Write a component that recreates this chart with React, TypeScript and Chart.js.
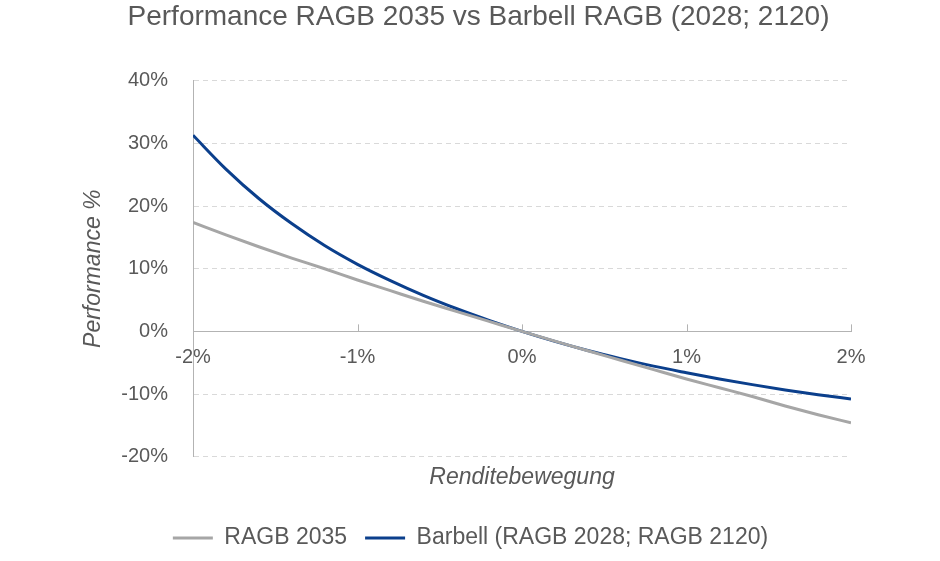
import React, { useEffect, useRef } from "react";
import { Chart, registerables } from "chart.js";

Chart.register(...registerables);

const TITLE = "Performance RAGB 2035 vs Barbell RAGB (2028; 2120)";
const X_TITLE = "Renditebewegung";
const Y_TITLE = "Performance %";

// yield move in %
const yieldMoves = [-2, -1.8, -1.6, -1.4, -1.2, -1, -0.8, -0.6, -0.4, -0.2, 0, 0.2, 0.4, 0.6, 0.8, 1, 1.2, 1.4, 1.6, 1.8, 2];

const ragb2035 = [17.4, 15.4, 13.5, 11.7, 10.0, 8.2, 6.5, 4.8, 3.2, 1.6, 0, -1.55, -3.1, -4.6, -6.1, -7.6, -9.0, -10.4, -11.9, -13.3, -14.6];
const barbell = [31.3, 25.9, 21.2, 17.2, 13.7, 10.7, 8.1, 5.75, 3.65, 1.75, 0, -1.6, -3.05, -4.35, -5.55, -6.6, -7.6, -8.5, -9.35, -10.1, -10.8];

const seriesNames = ["RAGB 2035", "Barbell (RAGB 2028; RAGB 2120)"];
const seriesColors = ["#a6a6a6", "#0b3f8c"];

const FONT = "'Liberation Sans', Arial, sans-serif";
const TEXT = "#595959";
const AXIS = "#b3b3b3";

const upTicks = {
  id: "upTicks",
  beforeDatasetsDraw(chart: any) {
    const xs = chart.scales.x;
    const ys = chart.scales.y;
    const ctx = chart.ctx;
    const y0 = ys.getPixelForValue(0);
    ctx.save();
    ctx.strokeStyle = AXIS;
    ctx.lineWidth = 1;
    xs.ticks.forEach((t: any) => {
      const px = Math.round(xs.getPixelForValue(t.value)) + 0.5;
      ctx.beginPath();
      ctx.moveTo(px, y0);
      ctx.lineTo(px, y0 - 7);
      ctx.stroke();
    });
    ctx.restore();
  },
};

const shiftLegend = {
  id: "shiftLegend",
  afterLayout(chart: any) {
    const lg = chart.legend;
    if (lg) {
      lg.left -= 8;
      lg.right -= 8;
    }
  },
};

export default function App() {
  const ref = useRef<HTMLCanvasElement>(null);
  useEffect(() => {
    document.body.style.margin = "0";
    const pts = (vals: number[]) => yieldMoves.map((x, i) => ({ x, y: vals[i] }));
    const mk = (i: number, vals: number[]) => ({
      label: seriesNames[i],
      data: pts(vals),
      borderColor: seriesColors[i],
      backgroundColor: seriesColors[i],
      borderWidth: 3,
      pointRadius: 0,
      cubicInterpolationMode: "monotone" as const,
      xAxisID: "x",
      yAxisID: "y",
    });
    const chart = new Chart(ref.current!, {
      type: "line",
      data: { datasets: [mk(0, ragb2035), mk(1, barbell)] },
      plugins: [upTicks, shiftLegend],
      options: {
        animation: false,
        responsive: false,
        devicePixelRatio: 1,
        layout: { padding: { left: 17, right: 0, top: 0, bottom: 1.5 } },
        plugins: {
          title: {
            display: true,
            text: TITLE,
            color: TEXT,
            font: { family: FONT, size: 28, weight: "normal" },
            padding: { top: 0.5, bottom: 46.6 },
          },
          legend: {
            position: "bottom",
            labels: {
              color: TEXT,
              font: { family: FONT, size: 23 },
              usePointStyle: true,
              pointStyle: "line",
              pointStyleWidth: 40,
              padding: 18,
            },
          },
          tooltip: { enabled: false },
        },
        scales: {
          x: {
            type: "linear",
            position: { y: 0 } as any,
            min: -2,
            max: 2,
            ticks: {
              stepSize: 1,
              color: TEXT,
              padding: 14,
              font: { family: FONT, size: 20 },
              callback: (v: any) => `${v}%`,
            },
            grid: { display: false, drawTicks: false },
            border: { display: true, color: AXIS, width: 1 },
          },
          x2: {
            type: "linear",
            position: "bottom",
            min: -2,
            max: 2,
            ticks: { display: false },
            grid: { display: false, drawTicks: false },
            border: { display: false },
            title: {
              display: true,
              text: X_TITLE,
              color: TEXT,
              font: { family: FONT, size: 23, style: "italic" },
              padding: { top: 7.5, bottom: 16.7 },
            },
          },
          y: {
            type: "linear",
            position: "left",
            min: -20,
            max: 40,
            afterFit: (s: any) => {
              s.width = 176;
            },
            ticks: {
              stepSize: 10,
              color: TEXT,
              padding: 25,
              font: { family: FONT, size: 20 },
              callback: (v: any) => `${v}%`,
            },
            grid: {
              drawTicks: false,
              color: (c: any) => (c.tick && c.tick.value === 0 ? "rgba(0,0,0,0)" : "#d9d9d9"),
              lineWidth: 1,
            },
            border: { display: true, color: AXIS, width: 1, dash: [5, 4] },
            title: {
              display: true,
              text: Y_TITLE,
              color: TEXT,
              font: { family: FONT, size: 23, style: "italic" },
              padding: { top: 63, bottom: 0 },
            },
          },
          y2: {
            type: "linear",
            position: "right",
            min: -20,
            max: 40,
            afterFit: (s: any) => {
              s.width = 89;
            },
            ticks: { display: false },
            grid: { display: false, drawTicks: false },
            border: { display: false },
          },
        },
      },
    });
    return () => chart.destroy();
  }, []);
  return (
    <div style={{ width: 940, height: 561 }}>
      <canvas ref={ref} width={940} height={561} style={{ display: "block" }} />
    </div>
  );
}
